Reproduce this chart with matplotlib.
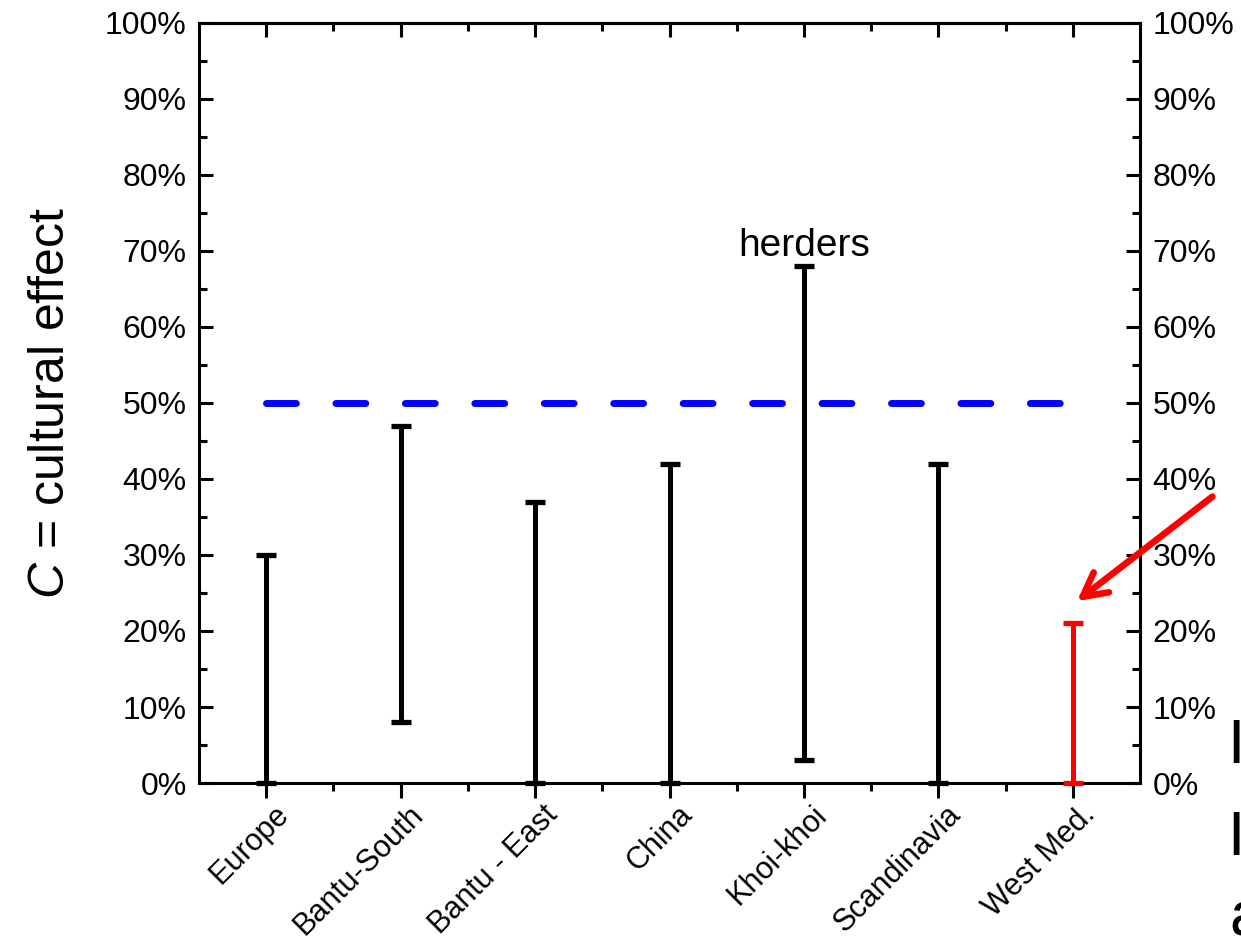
import matplotlib
matplotlib.use("Agg")
import matplotlib.pyplot as plt
import matplotlib.transforms as mtransforms
import numpy as np

plt.rcParams['font.family'] = ['Liberation Sans', 'DejaVu Sans']
plt.rcParams['mathtext.fontset'] = 'custom'
plt.rcParams['mathtext.it'] = 'Liberation Sans:italic'
plt.rcParams['mathtext.rm'] = 'Liberation Sans'

# data
regions = ["Europe", "Bantu-South", "Bantu - East", "China", "Khoi-khoi", "Scandinavia", "West Med."]
low = np.array([0, 8, 0, 0, 3, 0, 0])
high = np.array([30, 47, 37, 42, 68, 42, 21])
bar_colors = ['black'] * 6 + ['#ff0000']
threshold = 50
yticks = np.arange(0, 101, 10)
ytick_labels = ["%d%%" % v for v in yticks]

fig = plt.figure(figsize=(12.41, 9.41), dpi=100)
ax = fig.add_axes([0.1604, 0.1679, 0.7582, 0.8077])

x = np.arange(1, len(regions) + 1)
mid = (low + high) / 2
half = (high - low) / 2
for i in range(len(regions)):
    ax.errorbar(x[i], mid[i], yerr=half[i], fmt='none', ecolor=bar_colors[i],
                elinewidth=3.6, capsize=7, capthick=3.8, clip_on=False, zorder=3)

# 50% reference line
ax.plot([x[0], x[-1]], [threshold, threshold], color='#0000ff', lw=5,
        dashes=(4.3, 5.7), dash_capstyle='round', zorder=2)

ax.text(5, 69.3, "herders", ha='center', va='baseline', fontsize=28)

# red arrow pointing at West Med.
ax.annotate("", xy=(7.015, 23.7), xytext=(8.055, 37.9),
            arrowprops=dict(arrowstyle='->,head_length=1.7,head_width=0.9',
                            color='#ff0000', lw=4.8, capstyle='round', joinstyle='round'),
            annotation_clip=False)

ax.set_xlim(0.5, 7.5)
ax.set_ylim(0, 100)
ax.set_yticks(yticks)
ax.set_yticklabels(ytick_labels)
ax.set_yticks(np.arange(5, 100, 10), minor=True)
ax.set_xticks(x)
ax.set_xticks(np.arange(1.5, 7.5, 1), minor=True)
ax.set_xticklabels([])

# rotated category labels, placed by hand below each tick
lab_tr = ax.get_xaxis_transform() + mtransforms.ScaledTranslation(5.5 / 72, -12 / 72, fig.dpi_scale_trans)
for xi, name in zip(x, regions):
    ax.text(xi, 0, name, transform=lab_tr, rotation=45, ha='right', va='top',
            rotation_mode='anchor', fontsize=22, clip_on=False)

for s in ax.spines.values():
    s.set_linewidth(2.2)
ax.tick_params(axis='y', which='both', direction='in', left=True, right=True,
               labelleft=True, labelright=True, width=2.2, labelsize=23, pad=9)
ax.tick_params(axis='y', which='major', length=10)
ax.tick_params(axis='y', which='minor', length=6)
ax.tick_params(axis='x', which='both', direction='out', top=False, bottom=True, width=2.2)
ax.tick_params(axis='x', which='major', length=11)
ax.tick_params(axis='x', which='minor', length=6)

# top ticks point inward
top = ax.secondary_xaxis('top')
top.set_xticks(x)
top.set_xticks(np.arange(1.5, 7.5, 1), minor=True)
top.tick_params(axis='x', which='both', direction='in', width=2.2, labeltop=False)
top.tick_params(axis='x', which='major', length=10)
top.tick_params(axis='x', which='minor', length=6)
top.spines['top'].set_linewidth(2.2)

ax.set_ylabel(r"$\it{C}$ = cultural effect", fontsize=36)
ax.yaxis.set_label_coords(-0.133, 0.5)

# partially visible text at the right edge
fig.text(1227 / 1241, 1 - 763 / 941, "I", fontsize=45, va='baseline', ha='left')
fig.text(1227 / 1241, 1 - 855 / 941, "I", fontsize=45, va='baseline', ha='left')
fig.text(1229 / 1241, 1 - 935 / 941, "a", fontsize=45, va='baseline', ha='left')

fig.savefig("out.png", dpi=100)
